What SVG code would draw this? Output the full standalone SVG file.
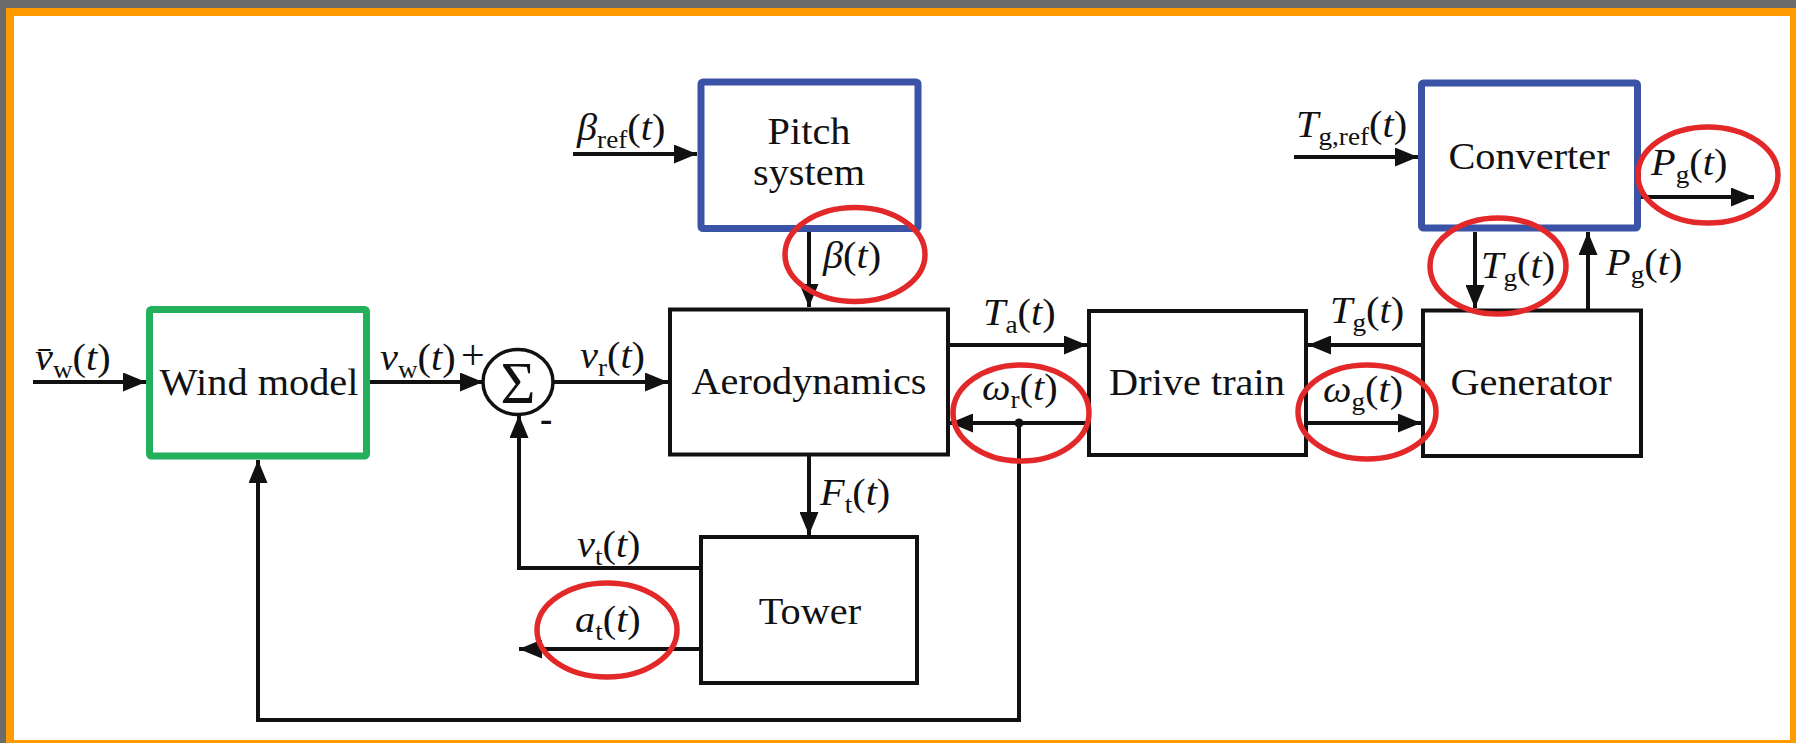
<svg xmlns="http://www.w3.org/2000/svg" width="1796" height="743" viewBox="0 0 1796 743">
<style>
text{font-family:"Liberation Serif","Times New Roman",serif;font-size:37px;fill:#111}
.c{text-anchor:middle}
.i{font-style:italic}
.s{font-size:25px}
.ln{fill:none;stroke:#111;stroke-width:4}
.arr{marker-end:url(#ah)}
.dash{fill:none;stroke:#111;stroke-width:3.5;stroke-dasharray:6 4}
.blk{fill:#fff;stroke:#111;stroke-width:4}
.grn{fill:#fff;stroke:#22b05b;stroke-width:7}
.blu{fill:#fff;stroke:#3a53a6;stroke-width:7}
.red{fill:none;stroke:#e3282a;stroke-width:5.5}
</style>
<defs>
<marker id="ah" markerUnits="userSpaceOnUse" markerWidth="23" markerHeight="19" refX="23" refY="9.5" orient="auto">
<path d="M0,0 L23,9.5 L0,19 z" fill="#111"/>
</marker>
</defs>
<rect x="0" y="0" width="1796" height="743" fill="#6b6b6b"/>
<rect x="6" y="8" width="1790" height="735" fill="#ff9a00"/>
<rect x="14" y="16" width="1776" height="724" fill="#fff"/>

<g id="connectors">
<line class="ln arr" x1="33" y1="382" x2="146" y2="382"/>
<line class="ln arr" x1="370" y1="382" x2="483" y2="382"/>
<line class="ln arr" x1="553" y1="382" x2="668" y2="382"/>
<line class="ln arr" x1="573" y1="154" x2="697" y2="154"/>
<line class="ln arr" x1="809" y1="232" x2="809" y2="307"/>
<line class="ln arr" x1="948" y1="345" x2="1087" y2="345"/>
<line class="ln arr" x1="1089" y1="423" x2="950" y2="423"/>
<circle cx="1019" cy="423" r="4.5" fill="#111"/>
<polyline class="ln arr" points="1019,423 1019,720 258,720 258,460"/>
<line class="ln arr" x1="809" y1="455" x2="809" y2="535"/>
<polyline class="ln arr" points="701,568 519,568 519,415"/>
<line class="ln arr" x1="701" y1="649" x2="519" y2="649"/>
<line class="ln arr" x1="1423" y1="345" x2="1308" y2="345"/>
<polyline class="dash" points="1475,310 1475,345 1423,345"/>
<line class="ln arr" x1="1306" y1="423" x2="1421" y2="423"/>
<line class="ln arr" x1="1294" y1="157" x2="1418" y2="157"/>
<line class="ln arr" x1="1475" y1="232" x2="1475" y2="308"/>
<line class="ln arr" x1="1588" y1="310" x2="1588" y2="232"/>
<polyline class="dash" points="1588,228 1588,197 1634,197"/>
<line class="ln arr" x1="1641" y1="197" x2="1754" y2="197"/>
</g>

<g id="wind-model">
<rect class="grn" x="149.5" y="309.5" width="217" height="146.5" rx="2"/>
<text class="c" transform="translate(259,395) scale(1.09,1)">Wind model</text>
</g>
<g id="sum">
<ellipse cx="518" cy="382" rx="35" ry="32.5" fill="#fff" stroke="#111" stroke-width="3.5"/>
<text class="c" x="518" y="403" style="font-size:60px">Σ</text>
<text x="461" y="369" style="font-size:42px">+</text>
<text x="540" y="431" style="font-weight:bold">-</text>
</g>
<g id="pitch-system">
<rect class="blu" x="701" y="82" width="217" height="146.5" rx="2"/>
<text class="c" transform="translate(809,144) scale(1.09,1)">Pitch</text>
<text class="c" transform="translate(809,185) scale(1.09,1)">system</text>
</g>
<g id="aerodynamics">
<rect class="blk" x="670" y="309.5" width="278" height="145"/>
<text class="c" transform="translate(809,394) scale(1.09,1)">Aerodynamics</text>
</g>
<g id="drive-train">
<rect class="blk" x="1089" y="311" width="217" height="144"/>
<text class="c" transform="translate(1197,395) scale(1.09,1)">Drive train</text>
</g>
<g id="generator">
<rect class="blk" x="1423" y="310.5" width="218" height="145.5"/>
<text class="c" transform="translate(1531,395) scale(1.09,1)">Generator</text>
</g>
<g id="converter">
<rect class="blu" x="1421.5" y="83" width="216" height="145" rx="2"/>
<text class="c" transform="translate(1529,169) scale(1.09,1)">Converter</text>
</g>
<g id="tower">
<rect class="blk" x="701" y="537" width="216" height="146"/>
<text class="c" transform="translate(810,624) scale(1.09,1)">Tower</text>
</g>

<g id="labels">
<text transform="translate(35,370) scale(1.09,1)"><tspan class="i">v&#x304;</tspan><tspan class="s" dy="8">w</tspan><tspan dy="-8">(</tspan><tspan class="i">t</tspan>)</text>
<text transform="translate(380,370) scale(1.09,1)"><tspan class="i">v</tspan><tspan class="s" dy="8">w</tspan><tspan dy="-8">(</tspan><tspan class="i">t</tspan>)</text>
<text transform="translate(580,368) scale(1.09,1)"><tspan class="i">v</tspan><tspan class="s" dy="8">r</tspan><tspan dy="-8">(</tspan><tspan class="i">t</tspan>)</text>
<text transform="translate(577,140) scale(1.09,1)"><tspan class="i">β</tspan><tspan class="s" dy="8">ref</tspan><tspan dy="-8">(</tspan><tspan class="i">t</tspan>)</text>
<text transform="translate(823,268) scale(1.09,1)"><tspan class="i">β</tspan>(<tspan class="i">t</tspan>)</text>
<text transform="translate(983,325) scale(1.09,1)"><tspan class="i">T</tspan><tspan class="s" dy="8">a</tspan><tspan dy="-8">(</tspan><tspan class="i">t</tspan>)</text>
<text transform="translate(982,400) scale(1.09,1)"><tspan class="i">ω</tspan><tspan class="s" dy="8">r</tspan><tspan dy="-8">(</tspan><tspan class="i">t</tspan>)</text>
<text transform="translate(1330,323) scale(1.09,1)"><tspan class="i">T</tspan><tspan class="s" dy="8">g</tspan><tspan dy="-8">(</tspan><tspan class="i">t</tspan>)</text>
<text transform="translate(1323,402) scale(1.09,1)"><tspan class="i">ω</tspan><tspan class="s" dy="8">g</tspan><tspan dy="-8">(</tspan><tspan class="i">t</tspan>)</text>
<text transform="translate(1296,137) scale(1.09,1)"><tspan class="i">T</tspan><tspan class="s" dy="8">g,ref</tspan><tspan dy="-8">(</tspan><tspan class="i">t</tspan>)</text>
<text transform="translate(1651,175) scale(1.09,1)"><tspan class="i">P</tspan><tspan class="s" dy="8">g</tspan><tspan dy="-8">(</tspan><tspan class="i">t</tspan>)</text>
<text transform="translate(1481,278) scale(1.09,1)"><tspan class="i">T</tspan><tspan class="s" dy="8">g</tspan><tspan dy="-8">(</tspan><tspan class="i">t</tspan>)</text>
<text transform="translate(1606,275) scale(1.09,1)"><tspan class="i">P</tspan><tspan class="s" dy="8">g</tspan><tspan dy="-8">(</tspan><tspan class="i">t</tspan>)</text>
<text transform="translate(820,505) scale(1.09,1)"><tspan class="i">F</tspan><tspan class="s" dy="8">t</tspan><tspan dy="-8">(</tspan><tspan class="i">t</tspan>)</text>
<text transform="translate(577,557) scale(1.09,1)"><tspan class="i">v</tspan><tspan class="s" dy="8">t</tspan><tspan dy="-8">(</tspan><tspan class="i">t</tspan>)</text>
<text transform="translate(575,632) scale(1.09,1)"><tspan class="i">a</tspan><tspan class="s" dy="8">t</tspan><tspan dy="-8">(</tspan><tspan class="i">t</tspan>)</text>
</g>

<g id="highlights">
<ellipse class="red" cx="855" cy="254.5" rx="70" ry="47"/>
<ellipse class="red" cx="1021" cy="413" rx="68" ry="48"/>
<ellipse class="red" cx="1367" cy="412" rx="69" ry="47"/>
<ellipse class="red" cx="1498" cy="266" rx="68" ry="48"/>
<ellipse class="red" cx="1708" cy="175" rx="70" ry="48"/>
<ellipse class="red" cx="607" cy="630" rx="70" ry="47"/>
</g>
</svg>
